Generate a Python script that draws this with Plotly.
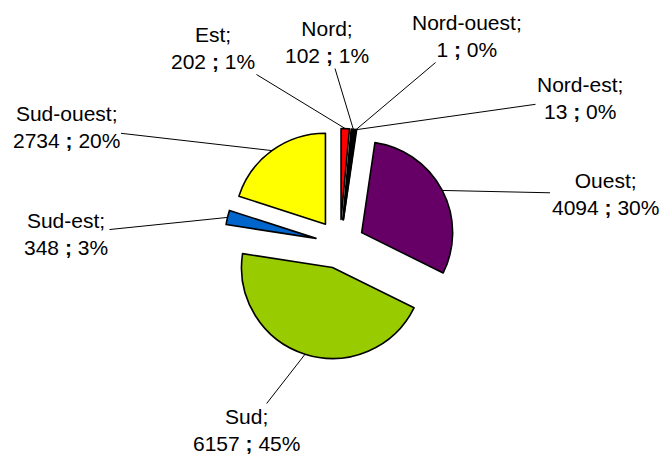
import math
import plotly.graph_objects as go

# ---- data ----
labels = ["Est", "Nord", "Nord-ouest", "Nord-est", "Ouest", "Sud", "Sud-est", "Sud-ouest"]
values = [202, 102, 1, 13, 4094, 6157, 348, 2734]
colors = ["#FF0000", "#000000", "#000000", "#000000", "#660066", "#99CC00", "#0066CC", "#FFFF00"]

# label text centres (pixels) – layout only
label_pos = {
    "Est": (213, 48),
    "Nord": (327, 42),
    "Nord-ouest": (467, 36),
    "Nord-est": (580, 98),
    "Ouest": (605, 194),
    "Sud": (246, 430),
    "Sud-est": (66, 234),
    "Sud-ouest": (66, 127),
}

W, H = 660, 454
PULL = 0.27
dom_x = [0.20, 0.83]
dom_y = [0.208, 0.717]

fig = go.Figure(go.Pie(
    labels=labels, values=values, sort=False, direction="clockwise", rotation=0,
    marker=dict(colors=colors, line=dict(color="#000000", width=1.6)),
    pull=[PULL] * len(values), textinfo="none", hoverinfo="label+value+percent",
    domain=dict(x=dom_x, y=dom_y), showlegend=False,
))

# geometry as Plotly computes it
bw = W * (dom_x[1] - dom_x[0])
bh = H * (dom_y[1] - dom_y[0])
r = min(bw, bh) / (2 + 2 * PULL)
cx = W * (dom_x[0] + dom_x[1]) / 2
cy = H * (1 - dom_y[0]) - bh / 2

total = sum(values)
cum = 0
annotations = []
for name, v in zip(labels, values):
    mid = (cum + v / 2) / total * 2 * math.pi
    cum += v
    rr = r * (1 + PULL)
    tx = cx + rr * math.sin(mid)
    ty = cy - rr * math.cos(mid)
    lx, ly = label_pos[name]
    pct = round(v / total * 100)
    annotations.append(dict(
        x=tx / W, y=1 - ty / H, xref="paper", yref="paper",
        ax=lx - tx, ay=ly - ty, axref="pixel", ayref="pixel",
        text=f"{name};<br>{v} <b>;</b> {pct}%", showarrow=True, arrowhead=0,
        arrowwidth=1, arrowcolor="#000000", standoff=0, startstandoff=0,
        font=dict(family="Liberation Sans, Arial, sans-serif", size=21, color="#000000"),
        align="center",
    ))

fig.update_layout(
    width=W, height=H, margin=dict(l=0, r=0, t=0, b=0),
    paper_bgcolor="#FFFFFF", plot_bgcolor="#FFFFFF",
    annotations=annotations,
)
fig.write_html("out.html", config={"displayModeBar": False},
               post_script="document.body.style.margin='0';document.body.style.overflow='hidden';")
